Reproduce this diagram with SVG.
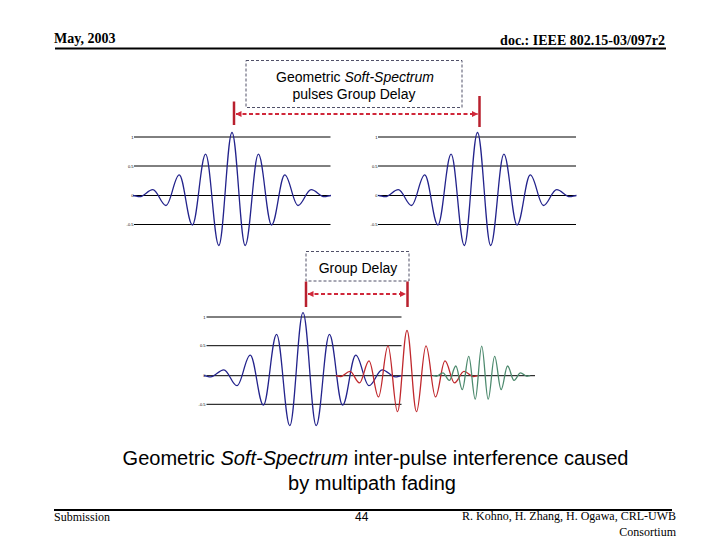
<svg xmlns="http://www.w3.org/2000/svg" xmlns:xlink="http://www.w3.org/1999/xlink" width="720" height="540" viewBox="0 0 720 540">
<style>
.hdr{font-family:"Liberation Serif","Times New Roman",serif;font-weight:bold;font-size:14px;fill:#000}
.ftr{font-family:"Liberation Serif","Times New Roman",serif;font-size:12px;fill:#000}
.sans{font-family:"Liberation Sans",Arial,sans-serif;fill:#000}
.tick{font-family:"Liberation Sans",Arial,sans-serif;font-size:4px;fill:#000}
.grid{stroke:#000;stroke-width:1;fill:none}
.pulse{fill:none;stroke-width:1.3;stroke-linejoin:round}
.blue{stroke:#23238c}
.red{stroke:#c0282d}
.green{stroke:#4d8a6e}
.dbox{fill:none;stroke:#505068;stroke-width:1;stroke-dasharray:3,2}
.bar{stroke:#b8202e;stroke-width:2.5}
.dim{stroke:#d0283a;stroke-width:2;stroke-dasharray:4,2.5;fill:none}
</style>
<defs>
<path id="pulse" vector-effect="non-scaling-stroke" d="M-99 0 C-96.6 0 -94.8 1.2 -92.4 1.2 C-87.6 1.2 -84 -5.9 -79.2 -5.9 C-74.4 -5.9 -70.8 10 -66 10 C-61.2 10 -57.6 -20.6 -52.8 -20.6 C-48 -20.6 -44.4 29.5 -39.6 29.5 C-34.8 29.5 -31.2 -41.3 -26.4 -41.3 C-21.6 -41.3 -18 50 -13.2 50 C-8.4 50 -4.8 -63 0 -63 C4.8 -63 8.4 50 13.2 50 C18 50 21.6 -41.3 26.4 -41.3 C31.2 -41.3 34.8 29.5 39.6 29.5 C44.4 29.5 48 -20.6 52.8 -20.6 C57.6 -20.6 61.2 10 66 10 C70.8 10 74.4 -5.9 79.2 -5.9 C84 -5.9 87.6 1.2 92.4 1.2 C94.8 1.2 96.6 0 99 0"/>
<marker id="ah" viewBox="0 0 6 6" refX="5.5" refY="3" markerWidth="3" markerHeight="3" orient="auto-start-reverse" markerUnits="strokeWidth">
<path d="M0 0 L6 3 L0 6 z" fill="#d0283a"/>
</marker>
</defs>
<rect width="720" height="540" fill="#fff"/>

<g id="header">
<text class="hdr" x="54" y="42.5">May, 2003</text>
<text class="hdr" x="665" y="44.5" text-anchor="end">doc.: IEEE 802.15-03/097r2</text>
<line x1="55" y1="48.5" x2="666" y2="48.5" stroke="#000" stroke-width="2"/>
</g>

<g id="box-pulses-group-delay">
<rect class="dbox" x="246" y="60.5" width="216" height="47"/>
<text class="sans" font-size="14" text-anchor="middle" x="355" y="81.5">Geometric <tspan font-style="italic">Soft-Spectrum</tspan></text>
<text class="sans" font-size="14" text-anchor="middle" x="354" y="99">pulses Group Delay</text>
</g>

<g id="plot-pulse-1">
<line class="grid" x1="134" y1="137" x2="330.5" y2="137"/>
<line class="grid" x1="134" y1="166" x2="330.5" y2="166"/>
<line class="grid" x1="134" y1="195.5" x2="330.5" y2="195.5"/>
<line class="grid" x1="134" y1="224.5" x2="330.5" y2="224.5"/>
<text class="tick" x="133.5" y="138.5" text-anchor="end">1</text>
<text class="tick" x="133.5" y="167.5" text-anchor="end">0.5</text>
<text class="tick" x="133.5" y="197" text-anchor="end">0</text>
<text class="tick" x="133.5" y="226" text-anchor="end">-0.5</text>
<use xlink:href="#pulse" class="pulse blue" transform="translate(232,195.5)"/>
</g>

<g id="plot-pulse-2">
<line class="grid" x1="378" y1="137" x2="576" y2="137"/>
<line class="grid" x1="378" y1="166" x2="576" y2="166"/>
<line class="grid" x1="378" y1="195.5" x2="576" y2="195.5"/>
<line class="grid" x1="378" y1="224.5" x2="576" y2="224.5"/>
<text class="tick" x="377.5" y="138.5" text-anchor="end">1</text>
<text class="tick" x="377.5" y="167.5" text-anchor="end">0.5</text>
<text class="tick" x="377.5" y="197" text-anchor="end">0</text>
<text class="tick" x="377.5" y="226" text-anchor="end">-0.5</text>
<use xlink:href="#pulse" class="pulse blue" transform="translate(477.5,195.5)"/>
</g>

<g id="box-group-delay">
<rect class="dbox" x="306" y="251.5" width="103" height="29.5"/>
<text class="sans" font-size="14" text-anchor="middle" x="358" y="272.5">Group Delay</text>
</g>

<g id="plot-multipath">
<line class="grid" x1="206.5" y1="317" x2="401.5" y2="317"/>
<line class="grid" x1="206.5" y1="345.7" x2="401.5" y2="345.7"/>
<line class="grid" x1="206.5" y1="375.7" x2="535" y2="375.7"/>
<line class="grid" x1="206.5" y1="404.3" x2="401.5" y2="404.3"/>
<text class="tick" x="205.5" y="318.5" text-anchor="end">1</text>
<text class="tick" x="205.5" y="347.2" text-anchor="end">0.5</text>
<text class="tick" x="205.5" y="377.2" text-anchor="end">0</text>
<text class="tick" x="205.5" y="405.8" text-anchor="end">-0.5</text>
<use xlink:href="#pulse" class="pulse blue" transform="translate(303,375.7)"/>
<use xlink:href="#pulse" class="pulse red" transform="translate(407,375.7) scale(0.72)"/>
<use xlink:href="#pulse" class="pulse green" transform="translate(481.7,375.7) scale(0.49,0.47)"/>
</g>

<g id="connectors">
<line class="bar" x1="234" y1="101.5" x2="234" y2="125"/>
<line class="bar" x1="479.5" y1="96" x2="479.5" y2="127"/>
<line class="dim" x1="236" y1="114" x2="477.5" y2="114" marker-start="url(#ah)" marker-end="url(#ah)"/>
<line class="bar" x1="306" y1="281.5" x2="306" y2="307"/>
<line class="bar" x1="407.5" y1="281.5" x2="407.5" y2="307"/>
<line class="dim" x1="308" y1="294" x2="405.5" y2="294" marker-start="url(#ah)" marker-end="url(#ah)"/>
</g>

<g id="caption">
<text class="sans" font-size="20" text-anchor="middle" x="375.5" y="465">Geometric <tspan font-style="italic">Soft-Spectrum</tspan> inter-pulse interference caused</text>
<text class="sans" font-size="20" text-anchor="middle" x="372" y="490">by multipath fading</text>
</g>

<g id="footer">
<line x1="54" y1="510" x2="672" y2="510" stroke="#000" stroke-width="2"/>
<text class="ftr" x="54" y="521">Submission</text>
<text class="sans" font-size="12" x="361.7" y="521" text-anchor="middle">44</text>
<text class="ftr" x="676" y="520" text-anchor="end">R. Kohno, H. Zhang, H. Ogawa, CRL-UWB</text>
<text class="ftr" x="676" y="535.5" text-anchor="end">Consortium</text>
</g>
</svg>
